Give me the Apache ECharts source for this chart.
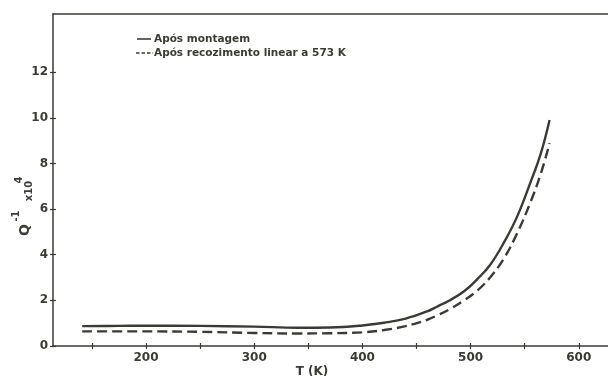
<!DOCTYPE html>
<html><head><meta charset="utf-8">
<script src="https://cdn.jsdelivr.net/npm/echarts@6/dist/echarts.min.js"></script>
<style>html,body{margin:0;padding:0;background:#fff}#c{width:608px;height:376px}</style>
</head><body><div id="c"></div>
<script>
const seriesNames = ['Após montagem', 'Após recozimento linear a 573 K'];
const solidT = [141, 175, 200, 250, 300, 340, 370, 400, 420, 440, 460, 470, 480, 494, 506, 518, 531, 543, 555, 565, 573];
const solidQ = [0.87, 0.88, 0.89, 0.88, 0.85, 0.80, 0.81, 0.90, 1.02, 1.20, 1.52, 1.75, 1.98, 2.40, 2.92, 3.55, 4.55, 5.67, 7.13, 8.45, 9.90];
const dashT = [141, 200, 250, 300, 340, 370, 400, 420, 440, 460, 470, 481, 494, 506, 518, 531, 543, 555, 565, 573];
const dashQ = [0.64, 0.64, 0.62, 0.57, 0.55, 0.56, 0.60, 0.70, 0.87, 1.15, 1.36, 1.62, 2.00, 2.42, 3.00, 3.85, 4.94, 6.26, 7.57, 8.89];
const xTicks = [150, 200, 250, 300, 350, 400, 450, 500, 550, 600];
const xLabels = [200, 300, 400, 500, 600];
const yTicks = [0, 2, 4, 6, 8, 10, 12];

const ink = '#3b3b34';
const font = 'DejaVu Sans';
const chart = echarts.init(document.getElementById('c'));
const xBase = {type: 'value', min: 114, max: 627, splitLine: {show: false}};
const yBase = {type: 'value', min: 0, max: 14.55, splitLine: {show: false}};
const legendText = {fontFamily: font, fontSize: 10.5, fontWeight: 'bold', fill: ink, align: 'left', verticalAlign: 'middle'};
chart.setOption({
  animation: false,
  backgroundColor: '#ffffff',
  grid: {left: 53, right: 0, top: 14, bottom: 30},
  xAxis: [
    Object.assign({}, xBase, {position: 'bottom',
      axisLine: {show: true, onZero: false, lineStyle: {color: ink, width: 1.5}},
      axisTick: {show: true, inside: false, length: 3, customValues: xTicks, lineStyle: {color: ink, width: 1.2}},
      axisLabel: {show: true, customValues: xLabels, margin: 6, fontFamily: font, fontSize: 12, fontWeight: 'bold', color: ink}
    }),
    Object.assign({}, xBase, {position: 'bottom',
      axisLine: {show: false, onZero: false},
      axisTick: {show: true, inside: true, length: 3, customValues: xTicks, lineStyle: {color: ink, width: 1.2}},
      axisLabel: {show: false}
    }),
    Object.assign({}, xBase, {position: 'top',
      axisLine: {show: true, onZero: false, lineStyle: {color: ink, width: 1.5}},
      axisTick: {show: false}, axisLabel: {show: false}
    })
  ],
  yAxis: [
    Object.assign({}, yBase, {position: 'left',
      axisLine: {show: true, onZero: false, lineStyle: {color: ink, width: 1.5}},
      axisTick: {show: true, inside: false, length: 3, customValues: yTicks, lineStyle: {color: ink, width: 1.2}},
      axisLabel: {show: true, customValues: yTicks, margin: 5, fontFamily: font, fontSize: 12, fontWeight: 'bold', color: ink}
    }),
    Object.assign({}, yBase, {position: 'left',
      axisLine: {show: false, onZero: false},
      axisTick: {show: true, inside: true, length: 3, customValues: yTicks, lineStyle: {color: ink, width: 1.2}},
      axisLabel: {show: false}
    })
  ],
  series: [
    {name: seriesNames[0], type: 'line', xAxisIndex: 0, yAxisIndex: 0, smooth: 0.4, showSymbol: false, symbol: 'none',
      data: solidT.map((t, i) => [t, solidQ[i]]),
      lineStyle: {color: ink, width: 2.4}, itemStyle: {color: ink}},
    {name: seriesNames[1], type: 'line', xAxisIndex: 0, yAxisIndex: 0, smooth: 0.4, showSymbol: false, symbol: 'none',
      data: dashT.map((t, i) => [t, dashQ[i]]),
      lineStyle: {color: ink, width: 2.4, type: [10, 5]}, itemStyle: {color: ink}}
  ],
  graphic: [
    {type: 'line', shape: {x1: 137, y1: 39, x2: 151, y2: 39}, style: {stroke: ink, lineWidth: 1.6}},
    {type: 'text', x: 154, y: 39, style: Object.assign({text: seriesNames[0]}, legendText)},
    {type: 'line', shape: {x1: 136, y1: 53, x2: 153, y2: 53}, style: {stroke: ink, lineWidth: 1.6, lineDash: [3.5, 2]}},
    {type: 'text', x: 154, y: 53, style: Object.assign({text: seriesNames[1]}, legendText)},
    {type: 'text', x: 25, y: 230, rotation: Math.PI / 2, style: {text: 'Q', fontFamily: font, fontSize: 14, fontWeight: 'bold', fill: ink, align: 'center', verticalAlign: 'middle'}},
    {type: 'text', x: 16, y: 216, rotation: Math.PI / 2, style: {text: '-1', fontFamily: font, fontSize: 10, fontWeight: 'bold', fill: ink, align: 'center', verticalAlign: 'middle'}},
    {type: 'text', x: 29, y: 191, rotation: Math.PI / 2, style: {text: 'x10', fontFamily: font, fontSize: 10, fontWeight: 'bold', fill: ink, align: 'center', verticalAlign: 'middle'}},
    {type: 'text', x: 19, y: 180, rotation: Math.PI / 2, style: {text: '4', fontFamily: font, fontSize: 10, fontWeight: 'bold', fill: ink, align: 'center', verticalAlign: 'middle'}},
    {type: 'text', x: 312, y: 372, style: {text: 'T (K)', fontFamily: font, fontSize: 12, fontWeight: 'bold', fill: ink, align: 'center', verticalAlign: 'middle'}}
  ]
});
</script></body></html>
